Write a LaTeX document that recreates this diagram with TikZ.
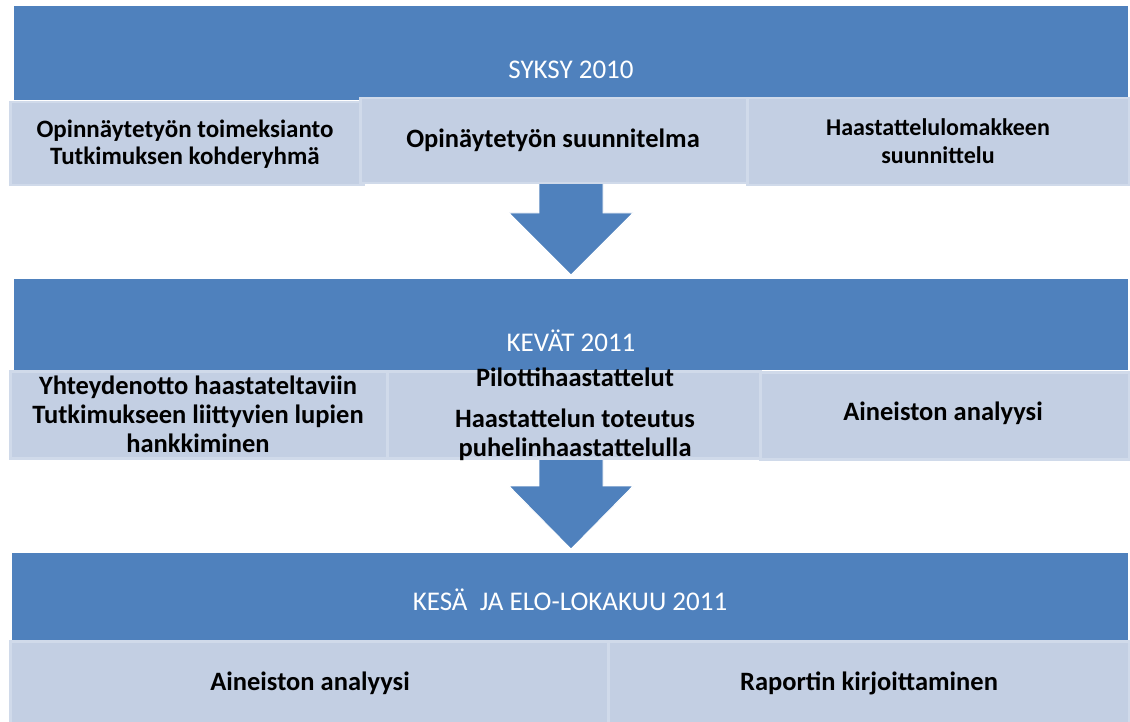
\documentclass[tikz,border=0pt]{standalone}
\usepackage{fontspec}
\setmainfont{Carlito}
\definecolor{bandblue}{HTML}{4F81BD}
\definecolor{boxfill}{HTML}{C3CFE3}
\definecolor{boxline}{HTML}{D0DAEA}
\begin{document}
\begin{tikzpicture}[x=1pt,y=-1pt,
  band/.style={fill=bandblue, draw=none, inner sep=0, anchor=north west},
  subbox/.style={fill=boxfill, draw=boxline, line width=2.5pt, inner sep=0, anchor=north west},
  boxtext/.style={align=center, inner sep=0, font=\bfseries\fontsize{25}{27}\selectfont},
  midtext/.style={align=center, inner sep=0, font=\bfseries\fontsize{24}{28}\selectfont},
  bigtext/.style={align=center, inner sep=0, font=\bfseries\fontsize{26.5}{29}\selectfont},
  bandlabel/.style={text=white, inner sep=0, font=\fontsize{27}{30}\selectfont},
  blockarrow/.style={fill=bandblue, draw=white, line width=0.8pt, line join=miter}]
\useasboundingbox[fill=white] (0,0) rectangle (1130,722);

% bands
\node[band, minimum width=1114pt, minimum height=94pt] (band1) at (14,6) {};
\node[band, minimum width=1114pt, minimum height=91pt] (band2) at (14,279) {};
\node[band, minimum width=1116pt, minimum height=88pt] (band3) at (12,553) {};

% arrows
\draw[blockarrow] (539,175) -- (603,175) -- (603,213) -- (633,213) -- (571,275) -- (509,213) -- (539,213) -- cycle;
\draw[blockarrow] (539,450) -- (603,450) -- (603,486) -- (633,486) -- (571,549) -- (509,486) -- (539,486) -- cycle;

% row 1 boxes
\node[subbox, minimum width=353pt, minimum height=83pt] (b11) at (9,101) {};
\node[subbox, minimum width=387pt, minimum height=85pt] (b12) at (359,97) {};
\node[subbox, minimum width=382pt, minimum height=87pt] (b13) at (746,97) {};

% row 2 boxes
\node[subbox, minimum width=377pt, minimum height=87pt] (b21) at (9,370) {};
\node[subbox, minimum width=373pt, minimum height=87pt] (b22) at (386,370) {};
\node[subbox, minimum width=369pt, minimum height=87pt] (b23) at (759,371) {};

% row 3 boxes
\node[subbox, minimum width=598pt, minimum height=86pt] (b31) at (9,640) {};
\node[subbox, minimum width=521pt, minimum height=86pt] (b32) at (607,640) {};

% band labels
\node[bandlabel] (l1) at (571,70) {SYKSY 2010};
\node[bandlabel] (l2) at (571,341) {KEVÄT 2011};
\node[bandlabel] (l3) at (570,600) {KESÄ\ \ JA ELO-LOKAKUU 2011};

% box texts
\node[boxtext] (t11) at (185,144) {Opinnäytetyön toimeksianto\\Tutkimuksen kohderyhmä};
\node[bigtext] (t12) at (553,140) {Opinäytetyön suunnitelma};
\node[midtext] (t13) at (938,141) {Haastattelulomakkeen\\suunnittelu};

\node[bigtext] (t21) at (198,414) {Yhteydenotto haastateltaviin\\Tutkimukseen liittyvien lupien\\hankkiminen};
\node[bigtext] (t22) at (575,414) {Pilottihaastattelut\\[12pt]Haastattelun toteutus\\puhelinhaastattelulla};
\node[bigtext] (t23) at (943,413) {Aineiston analyysi};

\node[bigtext] (t31) at (310,683) {Aineiston analyysi};
\node[bigtext] (t32) at (869,683) {Raportin kirjoittaminen};
\end{tikzpicture}
\end{document}
